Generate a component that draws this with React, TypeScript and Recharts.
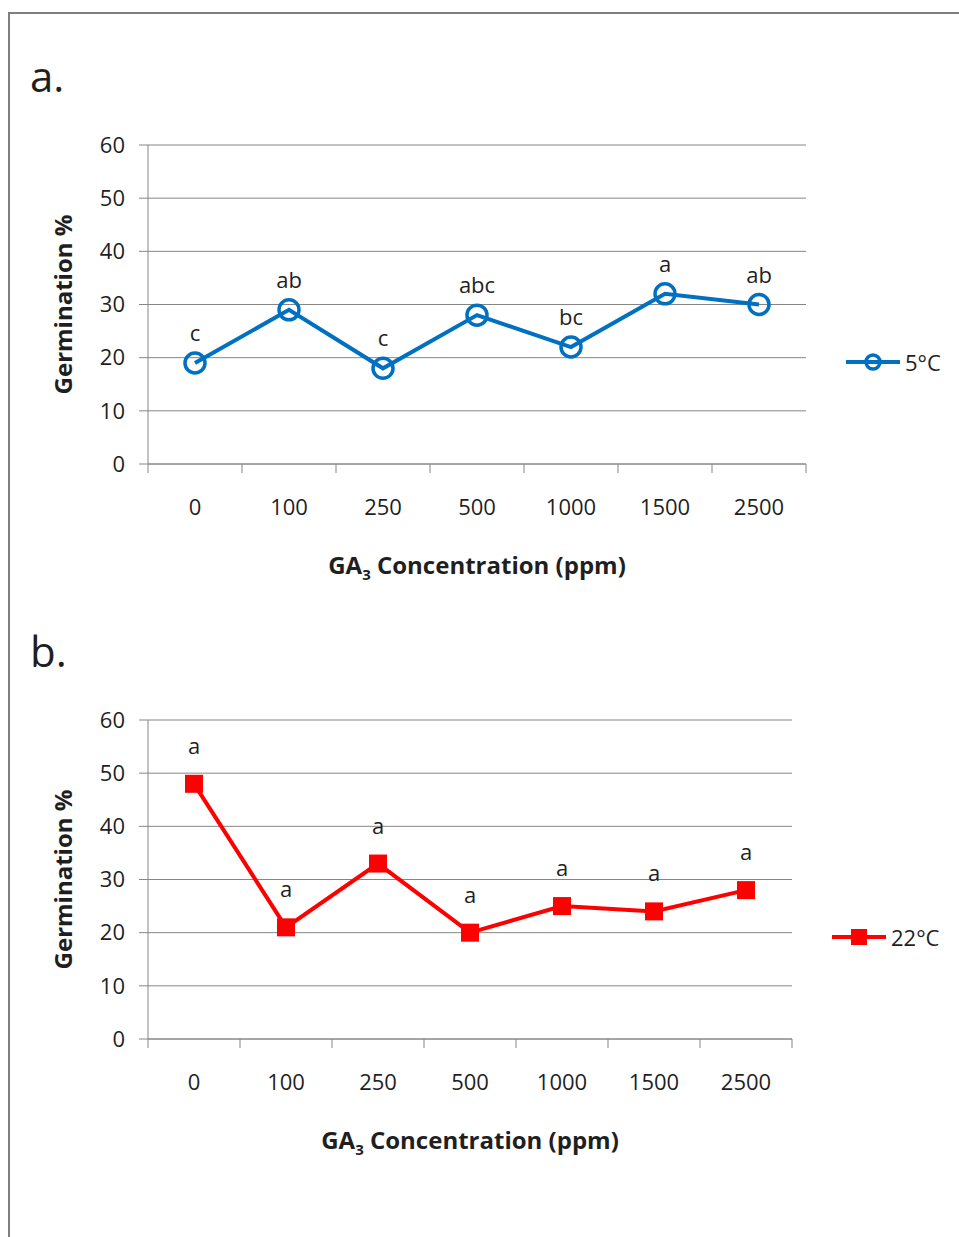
import { LineChart, Line, XAxis, YAxis, CartesianGrid, LabelList, Legend, Label } from 'recharts'

// GA3 concentrations (ppm) on the x axis
const concentrations = ['0', '100', '250', '500', '1000', '1500', '2500']
// germination % at 5°C and the letters of the mean separation
const germination5C = [19, 29, 18, 28, 22, 32, 30]
const letters5C = ['c', 'ab', 'c', 'abc', 'bc', 'a', 'ab']
// germination % at 22°C
const germination22C = [48, 21, 33, 20, 25, 24, 28]
const letters22C = ['a', 'a', 'a', 'a', 'a', 'a', 'a']
const yTicks = [0, 10, 20, 30, 40, 50, 60]

const FONT = '"Open Sans", "DejaVu Sans", sans-serif'
const GRAY = '#868686'
const TEXT = '#1f1f1f'

// category boundaries for tick marks, centres for the labels (Excel style)
const boundaryTicks = [...concentrations.map((_, i) => i), concentrations.length]
const centreTicks = concentrations.map((_, i) => i + 0.5)

type PanelProps = {
  tag: string
  values: number[]
  letters: string[]
  name: string
  color: string
  marker: 'circle' | 'square'
  top: number
  marginRight: number
  legendLeft: number
  labelGap: number
}

function YTitle(props: any) {
  const vb = props.viewBox
  const x = vb.x + 22
  const y = vb.y + vb.height / 2
  return (
    <text x={x} y={y} transform={`rotate(-90 ${x} ${y})`} textAnchor="middle" dominantBaseline="central"
      fontFamily={FONT} fontSize={24} fontWeight={700} fill={TEXT}>
      Germination %
    </text>
  )
}

function XTitle(props: any) {
  const vb = props.viewBox
  const x = vb.x + vb.width / 2
  return (
    <text x={x} y={vb.y + 100} textAnchor="middle" fontFamily={FONT} fontSize={24} fontWeight={700} fill={TEXT}>
      GA<tspan fontSize={15} dy={6}>3</tspan><tspan dy={-6}> Concentration (ppm)</tspan>
    </text>
  )
}

function Panel({ tag, values, letters, name, color, marker, top, marginRight, legendLeft, labelGap }: PanelProps) {
  const rows = values.map((v, i) => ({ pos: i + 0.5, value: v, letter: letters[i] }))

  const renderDot = (p: any) => {
    if (marker === 'circle') {
      return <circle key={`d${p.index}`} cx={p.cx} cy={p.cy} r={10} fill="none" stroke={color} strokeWidth={3.5} />
    }
    return <rect key={`d${p.index}`} x={p.cx - 9} y={p.cy - 9} width={18} height={18} fill={color} />
  }

  const renderLetter = (p: any) => (
    <text key={`l${p.index}`} x={p.x} y={p.y - labelGap} textAnchor="middle" fontFamily={FONT} fontSize={22} fill={TEXT}>
      {p.value}
    </text>
  )

  const renderLegend = () => (
    <div style={{ display: 'flex', alignItems: 'center', fontFamily: FONT, fontSize: 22, color: TEXT }}>
      <svg width={56} height={24}>
        <line x1={2} y1={12} x2={56} y2={12} stroke={color} strokeWidth={4} />
        {marker === 'circle'
          ? <circle cx={29} cy={12} r={7} fill="none" stroke={color} strokeWidth={3.5} />
          : <rect x={21} y={4} width={16} height={16} fill={color} />}
      </svg>
      <span style={{ marginLeft: 5 }}>{name}</span>
    </div>
  )

  return (
    <div style={{ position: 'absolute', left: 0, top }}>
      <LineChart width={959} height={500} data={rows} margin={{ top: 35, right: marginRight, bottom: 0, left: 40 }}>
        <CartesianGrid vertical={false} stroke={GRAY} yAxisId="y" xAxisId="grid" />
        <YAxis yAxisId="y" type="number" domain={[0, 60]} ticks={yTicks} interval={0} width={108}
          stroke={GRAY} tickSize={9} tickMargin={14}
          tick={{ fontFamily: FONT, fontSize: 22, fill: TEXT }}>
          <Label content={YTitle} />
        </YAxis>
        <XAxis xAxisId="grid" type="number" dataKey="pos" domain={[0, concentrations.length]} ticks={boundaryTicks}
          interval={0} tickFormatter={() => ''} height={10} tickSize={9} stroke={GRAY} />
        <XAxis xAxisId="lab" type="number" dataKey="pos" domain={[0, concentrations.length]} ticks={centreTicks}
          interval={0} tickFormatter={(v: number) => concentrations[Math.floor(v)]} height={136}
          axisLine={false} tickLine={false} tickSize={0} tickMargin={25}
          tick={{ fontFamily: FONT, fontSize: 22, fill: TEXT }}>
          <Label content={XTitle} />
        </XAxis>
        <Legend layout="vertical" align="right" verticalAlign="top" width={130}
          wrapperStyle={{ left: legendLeft, top: 237, width: 130 }} content={renderLegend} />
        <Line xAxisId="grid" yAxisId="y" type="linear" dataKey="value" name={name} stroke={color} strokeWidth={4}
          dot={renderDot} activeDot={false} isAnimationActive={false}>
          <LabelList dataKey="letter" content={renderLetter} />
        </Line>
      </LineChart>
      <div style={{ position: 'absolute', left: 30, top: -63, fontFamily: FONT, fontSize: 42, color: TEXT }}>
        {tag}
      </div>
    </div>
  )
}

export default function App() {
  return (
    <div style={{ position: 'absolute', left: 0, top: 0, width: 959, height: 1237, overflow: 'hidden', background: '#fff' }}>
      <div style={{ position: 'absolute', left: 8, top: 12, width: 1000, height: 1300, borderTop: '2px solid #7f7f7f', borderLeft: '2px solid #7f7f7f' }} />
      <Panel tag="a." values={germination5C} letters={letters5C} name="5°C" color="#0070C0" marker="circle"
        top={110} marginRight={23} legendLeft={844} labelGap={22} />
      <Panel tag="b." values={germination22C} letters={letters22C} name="22°C" color="#FF0000" marker="square"
        top={685} marginRight={37} legendLeft={830} labelGap={30} />
    </div>
  )
}
